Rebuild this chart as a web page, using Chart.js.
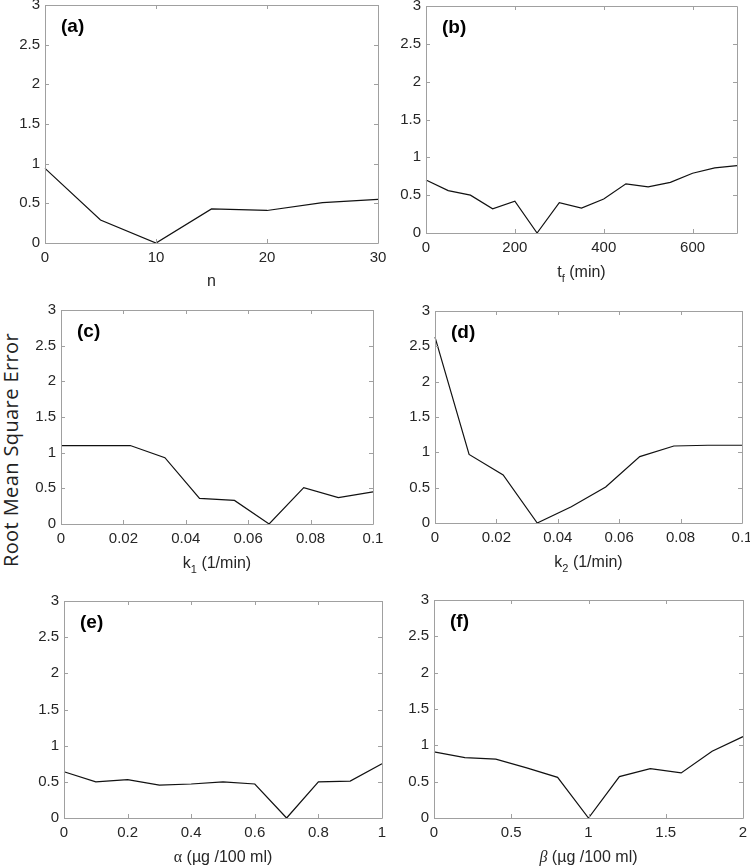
<!DOCTYPE html>
<html>
<head>
<meta charset="utf-8">
<script src="https://cdn.jsdelivr.net/npm/chart.js@4/dist/chart.umd.min.js"></script>
<style>
  html, body { margin:0; padding:0; background:#fff; }
  body { width:750px; height:868px; position:relative; overflow:hidden; }
  canvas { position:absolute; }
  #ytitle { position:absolute; width:320px; text-align:center; font-family:"Open Sans"; font-size:20px; letter-spacing:0.4px; color:#222;
            left:-149px; top:438px; line-height:24px; transform:rotate(-90deg); transform-origin:50% 50%; white-space:nowrap; }
</style>
</head>
<body>
<div id="ytitle">Root Mean Square Error</div>
<script>
// ---------- data ----------
const rmseTicks = [0, 0.5, 1, 1.5, 2, 2.5, 3];

const nVals  = [0, 5, 10, 15, 20, 25, 30];
const rmseN  = [0.94, 0.29, 0.0, 0.43, 0.41, 0.51, 0.55];
const nTicks = [0, 10, 20, 30];

const tfVals  = [0, 50, 100, 150, 200, 250, 300, 350, 400, 450, 500, 550, 600, 650, 700];
const rmseTf  = [0.70, 0.56, 0.50, 0.32, 0.42, 0.0, 0.40, 0.33, 0.45, 0.65, 0.61, 0.67, 0.79, 0.86, 0.89];
const tfTicks = [0, 200, 400, 600];

const k1Vals = [0, 0.0111, 0.0222, 0.0333, 0.0444, 0.0556, 0.0667, 0.0778, 0.0889, 0.1];
const rmseK1 = [1.10, 1.10, 1.10, 0.93, 0.36, 0.33, 0.0, 0.51, 0.37, 0.45];

const k2Vals = [0, 0.0111, 0.0222, 0.0333, 0.0444, 0.0556, 0.0667, 0.0778, 0.0889, 0.1];
const rmseK2 = [2.63, 0.97, 0.68, 0.0, 0.23, 0.51, 0.94, 1.09, 1.10, 1.10];
const kTicks = [0, 0.02, 0.04, 0.06, 0.08, 0.1];

const alphaVals  = [0, 0.1, 0.2, 0.3, 0.4, 0.5, 0.6, 0.7, 0.8, 0.9, 1.0];
const rmseAlpha  = [0.64, 0.50, 0.53, 0.455, 0.47, 0.50, 0.47, 0.0, 0.50, 0.51, 0.75];
const alphaTicks = [0, 0.2, 0.4, 0.6, 0.8, 1];

const betaVals  = [0, 0.2, 0.4, 0.6, 0.8, 1.0, 1.2, 1.4, 1.6, 1.8, 2.0];
const rmseBeta  = [0.91, 0.83, 0.81, 0.69, 0.56, 0.0, 0.57, 0.68, 0.62, 0.92, 1.12];
const betaTicks = [0, 0.5, 1, 1.5, 2];

const panelLabels = ['(a)', '(b)', '(c)', '(d)', '(e)', '(f)'];

// ---------- layout / styling ----------
const SANS = '"Liberation Sans", Arial, sans-serif';
const SERIF = '"Liberation Serif", "Times New Roman", serif';
const BOX = '#a0a0a0';
const TXT = '#262626';
const YW = 50, XH = 50, PT = 10, PR = 14;

const panels = [
  {L:45,  R:378, T:5,   B:243, x:nVals,     y:rmseN,     ticks:nTicks,     xmax:30,  title:[{t:'n'}], tb:43},
  {L:426, R:737, T:6,   B:233, x:tfVals,    y:rmseTf,    ticks:tfTicks,    xmax:700, title:[{t:'t'},{t:'f',sub:true},{t:' (min)'}], tb:44},
  {L:61,  R:373, T:310, B:524, x:k1Vals,    y:rmseK1,    ticks:kTicks,     xmax:0.1, title:[{t:'k'},{t:'1',sub:true},{t:' (1/min)'}], tb:44},
  {L:435, R:742, T:311, B:523, x:k2Vals,    y:rmseK2,    ticks:kTicks,     xmax:0.1, title:[{t:'k'},{t:'2',sub:true},{t:' (1/min)'}], tb:44},
  {L:64,  R:382, T:601, B:818, x:alphaVals, y:rmseAlpha, ticks:alphaTicks, xmax:1,   title:[{t:'α',font:SERIF},{t:' (µg /100 ml)'}], tb:44},
  {L:434, R:743, T:600, B:818, x:betaVals,  y:rmseBeta,  ticks:betaTicks,  xmax:2,   title:[{t:'β',font:SERIF,italic:true},{t:' (µg /100 ml)'}], tb:44}
];

const decorPlugin = {
  id: 'decor',
  afterDraw(chart, args, opts) {
    const ctx = chart.ctx, a = chart.chartArea;
    const xs = chart.scales.x, ys = chart.scales.y;
    ctx.save();
    ctx.strokeStyle = BOX;
    ctx.lineWidth = 1;
    ctx.beginPath();
    ctx.rect(Math.round(a.left) + 0.5, Math.round(a.top) + 0.5, Math.round(a.right - a.left), Math.round(a.bottom - a.top));
    ctx.stroke();
    const tl = 4;
    ctx.beginPath();
    xs.ticks.forEach(t => {
      const px = Math.round(xs.getPixelForValue(t.value)) + 0.5;
      ctx.moveTo(px, a.bottom); ctx.lineTo(px, a.bottom - tl);
      ctx.moveTo(px, a.top); ctx.lineTo(px, a.top + tl);
    });
    ys.ticks.forEach(t => {
      const py = Math.round(ys.getPixelForValue(t.value)) + 0.5;
      ctx.moveTo(a.left, py); ctx.lineTo(a.left + tl, py);
      ctx.moveTo(a.right, py); ctx.lineTo(a.right - tl, py);
    });
    ctx.stroke();

    // panel label
    ctx.fillStyle = '#000';
    ctx.font = 'bold 19px ' + SANS;
    ctx.textBaseline = 'alphabetic';
    ctx.textAlign = 'left';
    ctx.fillText(opts.label, a.left + 16, a.top + 27);

    // x-axis title with subscripts
    const pieces = opts.title;
    const fontFor = p => {
      const size = p.sub ? 11 : 16;
      const fam = p.font || SANS;
      return (p.italic ? 'italic ' : '') + size + 'px ' + fam;
    };
    let total = 0;
    pieces.forEach(p => { ctx.font = fontFor(p); total += ctx.measureText(p.t).width; });
    let x = (a.left + a.right) / 2 - total / 2;
    const base = a.bottom + opts.tb;
    ctx.fillStyle = TXT;
    pieces.forEach(p => {
      ctx.font = fontFor(p);
      ctx.fillText(p.t, x, p.sub ? base + 5 : base);
      x += ctx.measureText(p.t).width;
    });
    ctx.restore();
  }
};

panels.forEach((p, i) => {
  const cv = document.createElement('canvas');
  const w = (p.R - p.L) + YW + PR;
  const h = (p.B - p.T) + PT + XH;
  cv.width = w; cv.height = h;
  cv.style.left = (p.L - YW) + 'px';
  cv.style.top = (p.T - PT) + 'px';
  cv.style.width = w + 'px'; cv.style.height = h + 'px';
  document.body.appendChild(cv);

  const pts = p.x.map((xv, j) => ({x: xv, y: p.y[j]}));
  const tickArr = p.ticks;

  new Chart(cv.getContext('2d'), {
    type: 'line',
    data: { datasets: [{ data: pts, borderColor: '#111', borderWidth: 1.2, pointRadius: 0, tension: 0, fill: false, clip: 6 }] },
    options: {
      responsive: false, animation: false, devicePixelRatio: 1,
      layout: { padding: { left: 0, top: PT, right: PR, bottom: 0 } },
      plugins: { legend: { display: false }, tooltip: { enabled: false }, decor: { label: panelLabels[i], title: p.title, tb: p.tb } },
      scales: {
        x: {
          type: 'linear', min: 0, max: p.xmax,
          grid: { display: false, drawTicks: false }, border: { display: false },
          afterBuildTicks: s => { s.ticks = tickArr.map(v => ({ value: v })); },
          afterFit: s => { s.height = XH; s.paddingLeft = 0; s.paddingRight = 0; s.paddingTop = 0; s.paddingBottom = 0; },
          ticks: { autoSkip: false, maxRotation: 0, padding: 6, color: TXT, font: { family: SANS, size: 15 }, callback: v => String(v) }
        },
        y: {
          type: 'linear', min: 0, max: 3,
          grid: { display: false, drawTicks: false }, border: { display: false },
          afterBuildTicks: s => { s.ticks = rmseTicks.map(v => ({ value: v })); },
          afterFit: s => { s.width = YW; s.paddingLeft = 0; s.paddingRight = 0; s.paddingTop = 0; s.paddingBottom = 0; },
          ticks: { padding: 5, color: TXT, font: { family: SANS, size: 15 }, callback: v => String(v) }
        }
      }
    },
    plugins: [decorPlugin]
  });
});
</script>
</body>
</html>
